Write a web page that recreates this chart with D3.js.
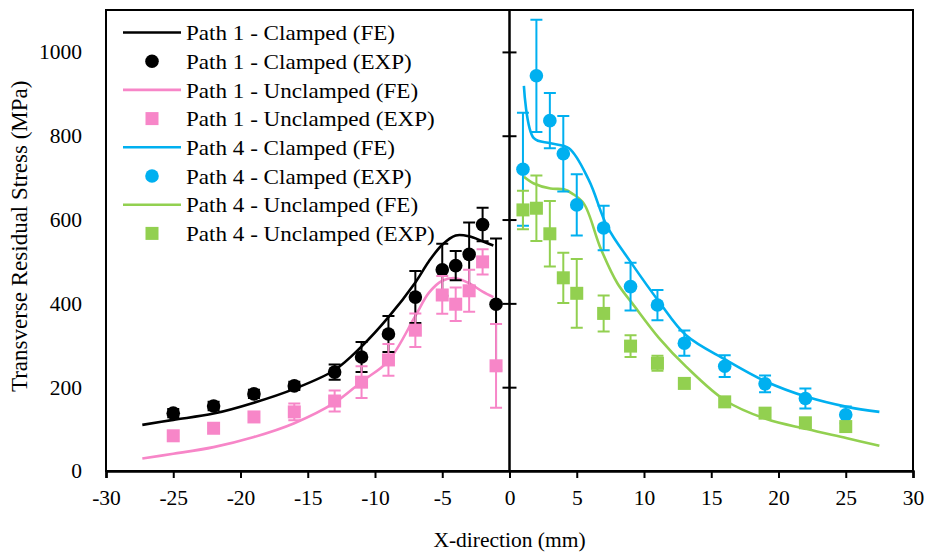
<!DOCTYPE html>
<html>
<head>
<meta charset="utf-8">
<script src="https://cdn.jsdelivr.net/npm/d3@7"></script>
<style>
  html, body { margin: 0; padding: 0; background: #fff; }
  svg text { font-family: "Liberation Serif", "Times New Roman", serif; fill: #000; }
</style>
</head>
<body>
<svg id="chart" width="927" height="552"></svg>
<script>
// Transverse residual stress along Path 1 (x < 0) and Path 4 (x > 0)

// Experimental measurement positions (mm)
const xPath1Exp = [-25, -22, -19, -16, -13, -11, -9, -7, -5, -4, -3, -2, -1];
const xPath4Exp = [1, 2, 3, 4, 5, 7, 9, 11, 13, 16, 19, 22, 25];

// Path 1 - Clamped (EXP): stress and error (MPa)
const p1ClampedExp = [138, 155, 184, 203, 236, 272, 327, 415, 480, 490, 517, 588, 398];
const p1ClampedErr = [10, 10, 10, 10, 18, 36, 43, 62, 62, 35, 76, 40, 157];

// Path 1 - Unclamped (EXP)
const p1UnclampedExp = [84, 102, 129, 141, 167, 212, 265, 336, 420, 398, 430, 499, 251];
const p1UnclampedErr = [0, 0, 0, 20, 25, 38, 38, 40, 45, 40, 50, 30, 100];

// Path 4 - Clamped (EXP)
const p4ClampedExp = [720, 943, 836, 757, 635, 580, 440, 396, 305, 250, 208, 173, 134];
const p4ClampedErr = [135, 134, 66, 90, 73, 53, 57, 36, 30, 26, 20, 24, 20];

// Path 4 - Unclamped (EXP)
const p4UnclampedExp = [623, 627, 566, 461, 424, 376, 298, 257, 209, 165, 138, 115, 106];
const p4UnclampedErr = [46, 78, 78, 60, 82, 43, 26, 18, 0, 0, 0, 0, 0];

// FE predictions
const xPath1Fe = [-27.3, -25, -22, -19, -16, -13, -11, -9, -7, -6, -5, -4, -3, -2, -1.2];
const p1ClampedFe = [110, 122, 137, 163, 196, 241, 297, 367, 450, 500, 540, 562, 560, 548, 538];
const p1UnclampedFe = [30, 41, 57, 81, 114, 163, 213, 263, 370, 425, 454, 460, 448, 428, 415];

const xPath4ClampedFe = [1.07, 1.81, 3.05, 4.42, 5.9, 7.27, 9.0, 11.12, 13.13, 16.1, 19.1, 22.1, 25.1, 27.5];
const p4ClampedFe = [919, 794, 782, 770, 694, 583, 499, 404, 324, 265, 213, 177, 153, 141];
const xPath4UnclampedFe = [1.07, 1.81, 3.05, 4.05, 4.67, 5.53, 6.78, 8.02, 9.13, 11.12, 13.13, 16.1, 19.1, 22.1, 25.1, 27.5];
const p4UnclampedFe = [702, 686, 674, 672, 662, 638, 531, 448, 400, 317, 249, 167, 124, 100, 78, 60];

// Axis ticks
const xTicks = [-30, -25, -20, -15, -10, -5, 0, 5, 10, 15, 20, 25, 30];
const yTicks = [0, 200, 400, 600, 800, 1000];

const colors = { black: "#000000", pink: "#F786C8", blue: "#00B0F0", green: "#92D050" };

const svg = d3.select("#chart");
const plotLeft = 106, plotRight = 913, plotTop = 10, plotBottom = 471;

const x = d3.scaleLinear().domain([-30, 30]).range([plotLeft, plotRight]);
const y = d3.scaleLinear().domain([0, 1100]).range([plotBottom, plotTop]);

// Plot frame
svg.append("rect")
  .attr("x", plotLeft).attr("y", plotTop)
  .attr("width", plotRight - plotLeft).attr("height", plotBottom - plotTop)
  .attr("fill", "none").attr("stroke", "#000").attr("stroke-width", 2);

// Bottom axis with outward ticks
const xAxis = svg.append("g")
  .attr("transform", `translate(0,${plotBottom})`)
  .call(d3.axisBottom(x).tickValues(xTicks).tickSize(7).tickPadding(12).tickFormat(d3.format("d")));
xAxis.select(".domain").attr("stroke-width", 2.5);
xAxis.selectAll(".tick line").attr("stroke-width", 2);
xAxis.selectAll("text").attr("font-size", 21.5).style("font-family", "Liberation Serif");
xAxis.selectAll("text").text(d => d < 0 ? "-" + Math.abs(d) : d);

// Vertical axis at x = 0 with crossing ticks
const yAxisL = svg.append("g")
  .attr("transform", `translate(${x(0)},0)`)
  .call(d3.axisLeft(y).tickValues(yTicks.filter(d => d > 0)).tickSize(7).tickFormat(""));
const yAxisR = svg.append("g")
  .attr("transform", `translate(${x(0)},0)`)
  .call(d3.axisRight(y).tickValues(yTicks.filter(d => d > 0)).tickSize(7).tickFormat(""));
[yAxisL, yAxisR].forEach(g => {
  g.select(".domain").attr("d", `M0,${plotTop}V${plotBottom}`).attr("stroke-width", 2);
  g.selectAll(".tick line").attr("stroke-width", 2);
});

// Y tick labels along the left edge
const yLabels = svg.append("g")
  .attr("transform", `translate(${plotLeft},0)`)
  .call(d3.axisLeft(y).tickValues(yTicks).tickSize(0).tickPadding(24).tickFormat(d3.format("d")));
yLabels.select(".domain").remove();
yLabels.selectAll("text").attr("font-size", 21.5).style("font-family", "Liberation Serif");

// Axis titles
svg.append("text")
  .attr("x", x(0)).attr("y", 547)
  .attr("text-anchor", "middle").attr("font-size", 21.5)
  .text("X-direction (mm)");
svg.append("text")
  .attr("transform", `translate(27,${y(560)}) rotate(-90)`)
  .attr("text-anchor", "middle").attr("font-size", 23)
  .text("Transverse Residual Stress (MPa)");

// FE curves
const line = d3.line().x(d => x(d[0])).y(d => y(d[1])).curve(d3.curveCatmullRom.alpha(0.5));
function feCurve(xs, ys, color) {
  svg.append("path")
    .datum(xs.map((v, i) => [v, ys[i]]))
    .attr("d", line)
    .attr("fill", "none").attr("stroke", color).attr("stroke-width", 2.6);
}
feCurve(xPath1Fe, p1ClampedFe, colors.black);
feCurve(xPath1Fe, p1UnclampedFe, colors.pink);
feCurve(xPath4ClampedFe, p4ClampedFe, colors.blue);
feCurve(xPath4UnclampedFe, p4UnclampedFe, colors.green);

// Experimental points with error bars
function expSeries(xs, ys, errs, color, shape) {
  const g = svg.append("g");
  const data = xs.map((v, i) => ({ x: v, y: ys[i], e: errs[i] }));
  const capW = 6;
  data.filter(d => d.e > 0).forEach(d => {
    const px = x(d.x), y0 = y(d.y - d.e), y1 = y(d.y + d.e);
    g.append("path")
      .attr("d", `M${px},${y0}V${y1}M${px - capW},${y0}H${px + capW}M${px - capW},${y1}H${px + capW}`)
      .attr("stroke", color).attr("stroke-width", 2).attr("fill", "none");
  });
  if (shape === "circle") {
    g.selectAll("circle").data(data).join("circle")
      .attr("cx", d => x(d.x)).attr("cy", d => y(d.y)).attr("r", 6.8).attr("fill", color);
  } else {
    const s = 13;
    g.selectAll("rect").data(data).join("rect")
      .attr("x", d => x(d.x) - s / 2).attr("y", d => y(d.y) - s / 2)
      .attr("width", s).attr("height", s).attr("fill", color);
  }
}
expSeries(xPath1Exp, p1ClampedExp, p1ClampedErr, colors.black, "circle");
expSeries(xPath1Exp, p1UnclampedExp, p1UnclampedErr, colors.pink, "square");
expSeries(xPath4Exp, p4ClampedExp, p4ClampedErr, colors.blue, "circle");
expSeries(xPath4Exp, p4UnclampedExp, p4UnclampedErr, colors.green, "square");

// Legend
const legendItems = [
  { label: "Path 1 - Clamped (FE)", color: colors.black, type: "line" },
  { label: "Path 1 - Clamped (EXP)", color: colors.black, type: "circle" },
  { label: "Path 1 - Unclamped (FE)", color: colors.pink, type: "line" },
  { label: "Path 1 - Unclamped (EXP)", color: colors.pink, type: "square" },
  { label: "Path 4 - Clamped (FE)", color: colors.blue, type: "line" },
  { label: "Path 4 - Clamped (EXP)", color: colors.blue, type: "circle" },
  { label: "Path 4 - Unclamped (FE)", color: colors.green, type: "line" },
  { label: "Path 4 - Unclamped (EXP)", color: colors.green, type: "square" }
];
const legend = svg.append("g");
legendItems.forEach((item, i) => {
  const cy = 32.5 + i * 28.7;
  const row = legend.append("g").attr("transform", `translate(0,${cy})`);
  if (item.type === "line") {
    row.append("line").attr("x1", 123).attr("x2", 181).attr("y1", 0).attr("y2", 0)
      .attr("stroke", item.color).attr("stroke-width", 2.6);
  } else if (item.type === "circle") {
    row.append("circle").attr("cx", 152).attr("cy", 0).attr("r", 6.8).attr("fill", item.color);
  } else {
    row.append("rect").attr("x", 145.5).attr("y", -6.5).attr("width", 13).attr("height", 13).attr("fill", item.color);
  }
  row.append("text")
    .attr("transform", "translate(186,0) scale(1.05,1)")
    .attr("dy", "0.35em")
    .attr("font-size", 22).text(item.label);
});
</script>
</body>
</html>
